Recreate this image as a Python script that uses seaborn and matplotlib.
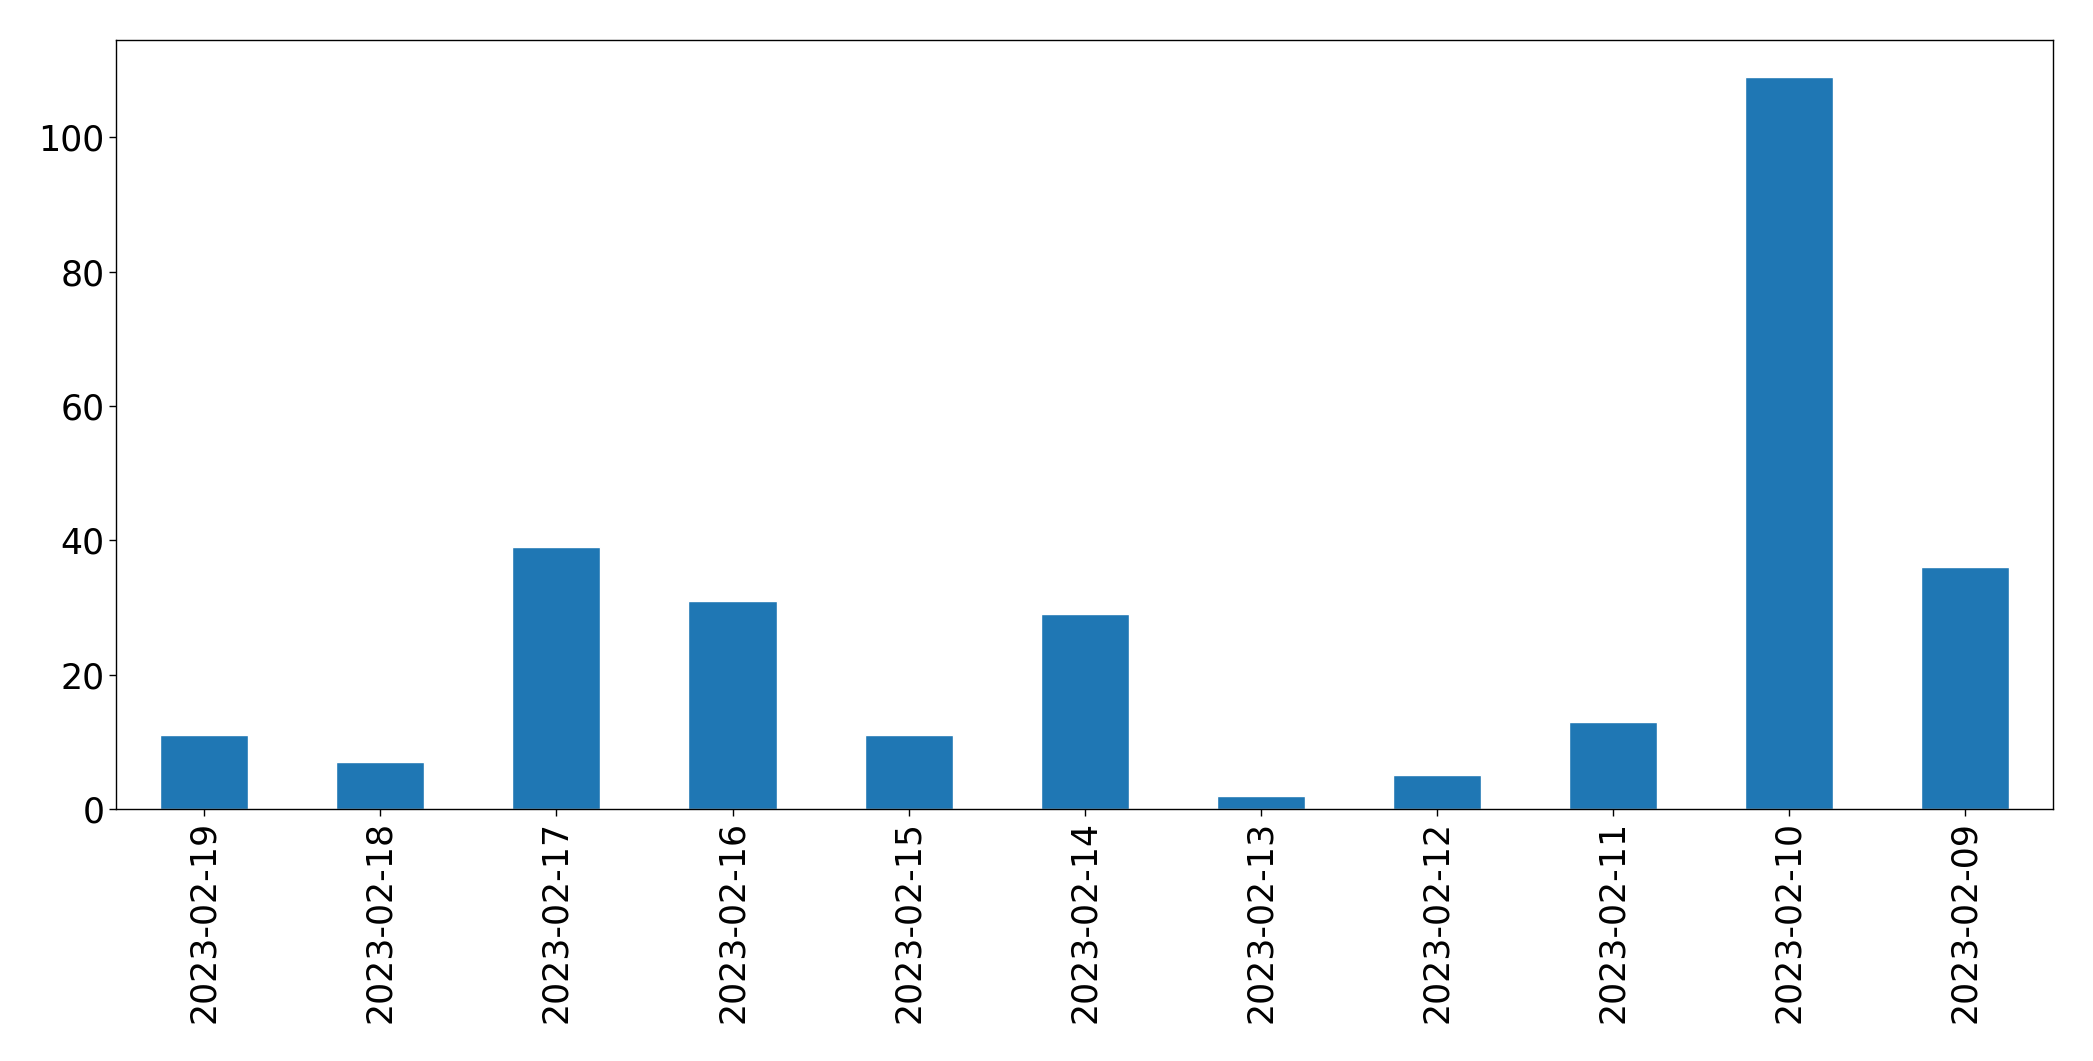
import matplotlib
matplotlib.use("Agg")
import matplotlib.pyplot as plt
import seaborn as sns
import pandas as pd

dates = ["2023-02-19", "2023-02-18", "2023-02-17", "2023-02-16", "2023-02-15",
         "2023-02-14", "2023-02-13", "2023-02-12", "2023-02-11", "2023-02-10",
         "2023-02-09"]
counts = [11, 7, 39, 31, 11, 29, 2, 5, 13, 109, 36]

df = pd.DataFrame({"date": dates, "count": counts})

sns.set_style("ticks")
plt.rcParams['font.family'] = ['DejaVu Sans']
plt.rcParams['text.color'] = 'black'
plt.rcParams['xtick.color'] = 'black'
plt.rcParams['ytick.color'] = 'black'
plt.rcParams['axes.edgecolor'] = 'black'

fig = plt.figure(figsize=(20.93, 10.61), dpi=100)
ax = fig.add_axes([0.0555, 0.2375, 0.9255, 0.7245])
sns.barplot(data=df, x="date", y="count", ax=ax, color="#1f77b4",
            saturation=1, width=0.5, order=dates)
ax.set_xlim(-0.5, len(dates) - 0.5)
ax.set_ylim(0, max(counts) * 1.05)
ax.set_xlabel("")
ax.set_ylabel("")
ax.tick_params(axis="both", labelsize=25, length=5, width=1,
               colors="black", labelcolor="black")
plt.setp(ax.get_xticklabels(), rotation=90)
for s in ax.spines.values():
    s.set_visible(True)
    s.set_linewidth(1)
    s.set_color("black")
fig.savefig("out.png", dpi=100)
